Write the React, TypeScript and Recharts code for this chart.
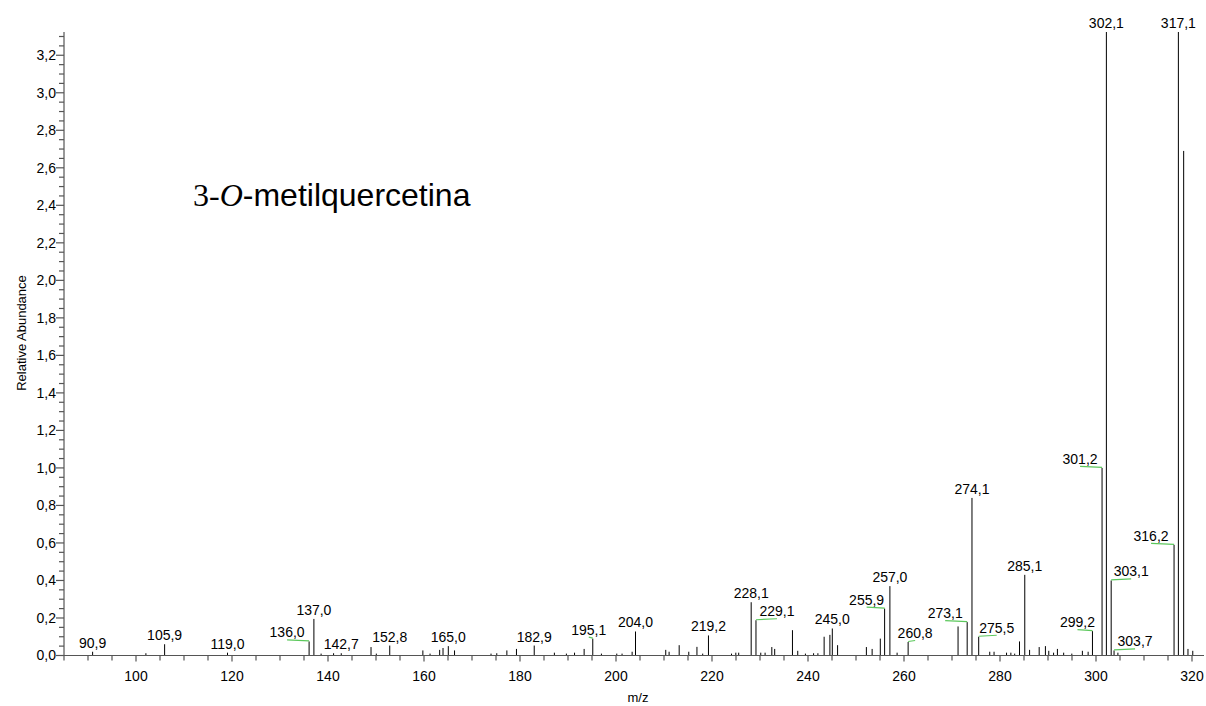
import React from "react";
import { ComposedChart, Bar, XAxis, YAxis, LabelList } from "recharts";

// m/z of every visible line in the spectrum
const mz = [
  90.9, 102.0, 105.9, 119.0, 136.0, 137.0, 138.5, 141.1, 142.7, 148.9,
  150.0, 152.8, 159.7, 161.2, 163.2, 163.9, 165.0, 166.3, 173.9, 175.1,
  177.2, 179.2, 182.9, 187.1, 189.6, 191.3, 193.3, 195.1, 196.9, 200.1,
  201.2, 203.3, 204.0, 210.3, 211.0, 213.1, 215.1, 216.8, 218.0, 219.2,
  224.0, 224.9, 225.5, 228.1, 229.1, 230.1, 231.0, 232.4, 233.0, 236.7,
  237.8, 239.4, 241.1, 242.0, 243.3, 244.5, 245.0, 246.1, 252.1, 253.3,
  255.0, 255.9, 257.0, 258.5, 260.8, 271.2, 273.1, 274.1, 275.5, 277.8,
  278.7, 281.3, 282.2, 283.0, 284.0, 285.1, 286.1, 288.1, 289.4, 290.1,
  291.1, 291.9, 293.2, 294.9, 297.1, 298.3, 299.2, 301.2, 302.1, 303.1,
  303.7, 304.5, 316.2, 317.1, 318.2, 319.1, 320.1,
];

const abundance = [
  0.02, 0.012, 0.06, 0.015, 0.075, 0.195, 0.01, 0.012, 0.012, 0.045,
  0.01, 0.053, 0.027, 0.01, 0.03, 0.04, 0.05, 0.027, 0.01, 0.012,
  0.027, 0.035, 0.053, 0.015, 0.01, 0.015, 0.035, 0.09, 0.01, 0.01,
  0.01, 0.02, 0.128, 0.03, 0.02, 0.055, 0.02, 0.046, 0.01, 0.107,
  0.01, 0.015, 0.015, 0.284, 0.188, 0.015, 0.015, 0.045, 0.035, 0.135,
  0.025, 0.01, 0.012, 0.012, 0.1, 0.11, 0.144, 0.055, 0.045, 0.035,
  0.09, 0.25, 0.37, 0.015, 0.072, 0.155, 0.178, 0.84, 0.1, 0.02,
  0.02, 0.015, 0.015, 0.01, 0.075, 0.43, 0.03, 0.045, 0.05, 0.025,
  0.015, 0.035, 0.015, 0.01, 0.025, 0.02, 0.13, 1.0, 3.324, 0.4,
  0.027, 0.015, 0.59, 3.324, 2.69, 0.035, 0.025,
];

const labelledPeaks = [
  90.9, 105.9, 119.0, 136.0, 137.0, 142.7, 152.8, 165.0, 182.9, 195.1,
  204.0, 219.2, 228.1, 229.1, 245.0, 255.9, 257.0, 260.8, 273.1, 274.1,
  275.5, 285.1, 299.2, 301.2, 302.1, 303.1, 303.7, 316.2, 317.1,
];

// horizontal shift (px) of labels that were pushed aside, joined by a green leader
const labelShift: Record<string, number> = {
  "136,0": -22, "195,1": -4, "229,1": 21, "255,9": -18, "260,8": 7,
  "273,1": -22, "275,5": 18, "299,2": -15, "301,2": -22, "303,1": 20,
  "303,7": 21, "316,2": -23,
};

const fmt = (v: number) => v.toFixed(1).replace(".", ",");

const peaks = mz.map((m, i) => ({
  mz: m,
  value: abundance[i],
  label: labelledPeaks.includes(m) ? fmt(m) : undefined,
}));

const xTicks: number[] = [];
for (let v = 85; v <= 320; v += 5) xTicks.push(v);
const yTicks: number[] = [];
for (let i = 0; i <= 66; i++) yTicks.push(Math.round(i * 5) / 100);

const FONT = "'Liberation Sans', Arial, Helvetica, sans-serif";
const SERIF = "'Liberation Serif', 'Times New Roman', serif";
const AXIS = "#555";

function XTick({ x, y, payload }: any) {
  const major = payload.value % 20 === 0;
  return (
    <g>
      <line x1={x} x2={x} y1={y} y2={y + (major ? 6 : 5)} stroke={AXIS} strokeWidth={1.2} />
      {major && (
        <text x={x} y={y + 25} textAnchor="middle" fontSize={14} fill="#000" fontFamily={FONT}>
          {payload.value}
        </text>
      )}
    </g>
  );
}

function YTick({ x, y, payload }: any) {
  const major = Math.round(payload.value * 100) % 20 === 0;
  return (
    <g>
      <line x1={x - (major ? 8 : 5)} x2={x} y1={y} y2={y} stroke={AXIS} strokeWidth={1.2} />
      {major && (
        <text x={x - 8} y={y} dy="0.35em" textAnchor="end" fontSize={14} fill="#000" fontFamily={FONT}>
          {fmt(payload.value)}
        </text>
      )}
    </g>
  );
}

const Stick = (props: any) => {
  const { x, y, width, height } = props;
  if (height == null || height <= 0) return null;
  const cx = x + width / 2;
  return <line x1={cx} x2={cx} y1={y} y2={y + height} stroke="#000" strokeWidth={1} />;
};

const PeakLabel = (props: any) => {
  const { x, y, width, value } = props;
  if (!value) return null;
  const cx = x + width / 2;
  const dx = labelShift[value] ?? 0;
  return (
    <g>
      {dx !== 0 && (
        <line x1={cx} x2={cx + dx} y1={y - 0.5} y2={y - 1.5} stroke="#5cc85c" strokeWidth={1.2} />
      )}
      <text x={cx + dx} y={y - 4} textAnchor="middle" fontSize={14} fill="#000" fontFamily={FONT}>
        {value}
      </text>
    </g>
  );
};

export default function App() {
  return (
    <div style={{ position: "absolute", left: 0, top: 0, width: 1206, height: 706, background: "#fff" }}>
      <ComposedChart
        width={1206}
        height={706}
        data={peaks}
        margin={{ top: 32, right: 2, bottom: 20.5, left: 4 }}
      >
        <XAxis
          dataKey="mz"
          type="number"
          domain={[85, 322.5]}
          ticks={xTicks}
          interval={0}
          allowDataOverflow
          tickSize={0}
          tickMargin={0}
          tick={<XTick />}
          height={30}
          axisLine={{ stroke: AXIS, strokeWidth: 1.2 }}
          label={(p: any) => {
            const vb = p.viewBox;
            return (
              <text x={vb.x + vb.width / 2 + 4} y={vb.y + 46} textAnchor="middle" fontSize={13} fontFamily={FONT} fill="#000">
                m/z
              </text>
            );
          }}
        />
        <YAxis
          type="number"
          domain={[0, 3.324]}
          ticks={yTicks}
          interval={0}
          allowDataOverflow
          tickSize={0}
          tickMargin={0}
          tick={<YTick />}
          width={60}
          axisLine={{ stroke: AXIS, strokeWidth: 1.2 }}
          label={(p: any) => {
            const vb = p.viewBox;
            const cx = vb.x + 17;
            const cy = 333;
            return (
              <text x={cx} y={cy} transform={`rotate(-90 ${cx} ${cy})`} textAnchor="middle" dy="0.35em" fontSize={13} fontFamily={FONT} fill="#000">
                Relative Abundance
              </text>
            );
          }}
        />
        <Bar dataKey="value" barSize={1} shape={<Stick />} isAnimationActive={false}>
          <LabelList dataKey="label" content={<PeakLabel />} />
        </Bar>
      </ComposedChart>
      <svg width={1206} height={706} style={{ position: "absolute", left: 0, top: 0, pointerEvents: "none" }}>
        <text x={193} y={206} fontSize={32} fill="#000" fontFamily={FONT}>
          <tspan fontFamily={SERIF}>3-</tspan>
          <tspan fontFamily={SERIF} fontStyle="italic">O</tspan>
          <tspan>-metilquercetina</tspan>
        </text>
      </svg>
    </div>
  );
}
